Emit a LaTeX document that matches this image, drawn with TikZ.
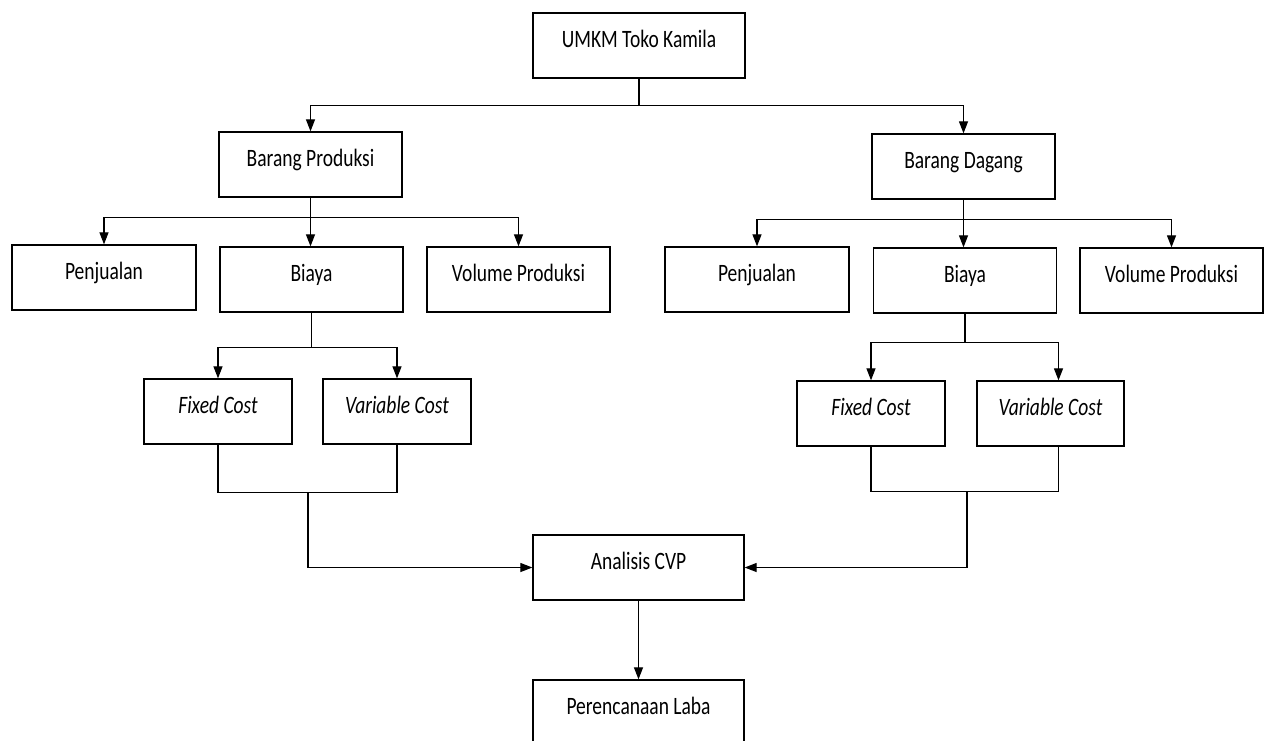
\documentclass[tikz,border=0pt]{standalone}
\usepackage{fontspec}
\setmainfont{Carlito}[FakeStretch=0.78]
\usetikzlibrary{arrows.meta}
\tikzstyle{box}=[draw, line width=1.3pt, minimum height=65pt, text height=16pt, text depth=12pt, inner sep=0pt, font=\fontsize{25}{30}\selectfont]
\tikzstyle{link}=[line width=1.2pt]

\begin{document}
\begin{tikzpicture}[x=1pt,y=-1pt,>={Triangle[length=12pt,width=9pt]}]
    \useasboundingbox (0,0) rectangle (1265,740);

    % Top
    \draw (639,45.5) node[box,minimum width=212pt] (umkm) {UMKM Toko Kamila};
    \draw (310.5,164.5) node[box,minimum width=183pt] (bprod) {Barang Produksi};
    \draw (963.5,166.5) node[box,minimum width=183pt] (bdag) {Barang Dagang};

    % Left branch
    \draw (104,277.5) node[box,minimum width=184pt] (penjL) {Penjualan};
    \draw (311.5,279.5) node[box,minimum width=183pt] (biayaL) {Biaya};
    \draw (518.5,279.5) node[box,minimum width=183pt] (volL) {Volume Produksi};
    \draw (218,411.5) node[box,minimum width=148pt] (fixL) {\textit{Fixed Cost}};
    \draw (397,411.5) node[box,minimum width=148pt] (varL) {\textit{Variable Cost}};

    % Right branch
    \draw (757,279.5) node[box,minimum width=184pt] (penjR) {Penjualan};
    \draw (965,280.5) node[box,minimum width=183pt] (biayaR) {Biaya};
    \draw (1171.5,280.5) node[box,minimum width=183pt] (volR) {Volume Produksi};
    \draw (871,413.5) node[box,minimum width=148pt] (fixR) {\textit{Fixed Cost}};
    \draw (1050.5,413.5) node[box,minimum width=147pt] (varR) {\textit{Variable Cost}};

    % Bottom
    \draw (638.5,567.5) node[box,minimum width=211pt] (cvp) {Analisis CVP};
    \draw (638.5,712.5) node[box,minimum width=211pt] (laba) {Perencanaan Laba};

    % Links
    \draw[link,->] (umkm.south) -- ++(0,27) -| (bprod.north);
    \draw[link,->] (umkm.south) -- ++(0,27) -| (bdag.north);

    \draw[link,->] (bprod.south) -- ++(0,20) -| (penjL.north);
    \draw[link,->] (bprod.south) -- (bprod.south |- biayaL.north);
    \draw[link,->] (bprod.south) -- ++(0,20) -| (volL.north);

    \draw[link,->] (bdag.south) -- ++(0,20) -| (penjR.north);
    \draw[link,->] (bdag.south) -- (bdag.south |- biayaR.north);
    \draw[link,->] (bdag.south) -- ++(0,20) -| (volR.north);

    \draw[link,->] (biayaL.south) -- ++(0,35) -| (fixL.north);
    \draw[link,->] (biayaL.south) -- ++(0,35) -| (varL.north);
    \draw[link,->] (biayaR.south) -- ++(0,29) -| (fixR.north);
    \draw[link,->] (biayaR.south) -- ++(0,29) -| ([xshift=8pt]varR.north);

    % Joins
    \coordinate (joinL) at (308,492);
    \coordinate (joinR) at (967,491);
    \draw[link] (fixL.south) -- ++(0,48) -| (varL.south);
    \draw[link] (fixR.south) -- ++(0,45) -| ([xshift=8pt]varR.south);
    \draw[link,->] (joinL) |- (cvp.west);
    \draw[link,->] (joinR) |- (cvp.east);
    \draw[link,->] (cvp) -- (laba);
\end{tikzpicture}
\end{document}
